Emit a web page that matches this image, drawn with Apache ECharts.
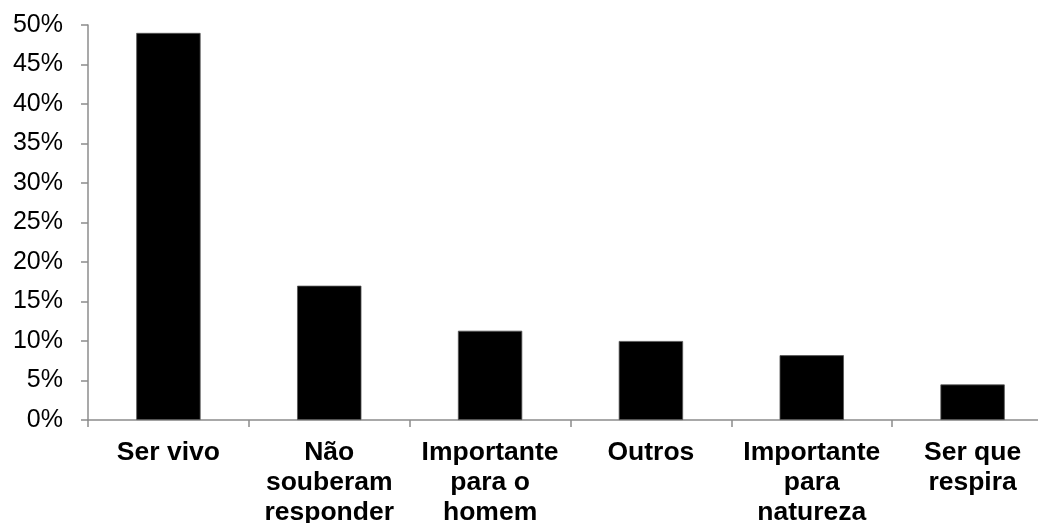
<!DOCTYPE html>
<html>
<head>
<meta charset="utf-8">
<script src="https://cdn.jsdelivr.net/npm/echarts@6/dist/echarts.min.js"></script>
<style>
  html, body { margin: 0; padding: 0; background: #fff; }
  #chart { width: 1038px; height: 523px; }
</style>
</head>
<body>
<div id="chart"></div>
<script>
// Respostas (categorias com quebras de linha como aparecem no eixo)
const categories = [
  'Ser vivo',
  'Não\nsouberam\nresponder',
  'Importante\npara o\nhomem',
  'Outros',
  'Importante\npara\nnatureza',
  'Ser que\nrespira'
];
// Percentual de respostas
const values = [49, 17, 11.3, 10, 8.2, 4.5];
// Escala do eixo Y (%)
const yMin = 0, yMax = 50, yStep = 5;

const axisGray = '#8c8c8c';
const chart = echarts.init(document.getElementById('chart'), null, { renderer: 'canvas' });
chart.setOption({
  animation: false,
  backgroundColor: '#ffffff',
  grid: { left: 88, top: 25, right: -15, bottom: 103, containLabel: false, outerBoundsMode: 'none' },
  xAxis: {
    type: 'category',
    data: categories,
    boundaryGap: true,
    axisLine: { lineStyle: { color: axisGray, width: 1.5 } },
    axisTick: { show: true, length: 7, alignWithLabel: false, lineStyle: { color: axisGray, width: 1.5 } },
    axisLabel: {
      interval: 0,
      margin: 18,
      color: '#000',
      fontFamily: 'Liberation Sans, Arial, sans-serif',
      fontWeight: 'bold',
      fontSize: 26.5,
      lineHeight: 30,
      align: 'center'
    }
  },
  yAxis: {
    type: 'value',
    min: yMin,
    max: yMax,
    interval: yStep,
    splitLine: { show: false },
    axisLine: { show: true, lineStyle: { color: axisGray, width: 1.5 } },
    axisTick: { show: true, length: 7, lineStyle: { color: axisGray, width: 1.5 } },
    axisLabel: {
      margin: 25,
      color: '#000',
      fontFamily: 'Liberation Sans, Arial, sans-serif',
      fontSize: 25,
      formatter: '{value}%'
    }
  },
  series: [{
    type: 'bar',
    data: values,
    barWidth: '40%',
    itemStyle: { color: '#000', borderColor: '#555', borderWidth: 0.8 }
  }]
});
</script>
</body>
</html>
